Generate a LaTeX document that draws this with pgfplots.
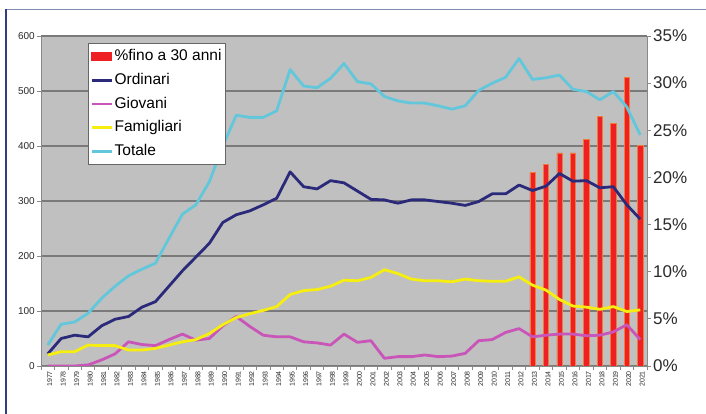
\documentclass[border=0pt]{standalone}
\usepackage{fontspec}
\setmainfont{Liberation Sans}
\usepackage{pgfplots}
\pgfplotsset{compat=1.18}
\usepackage{pgfplotstable}

\definecolor{bgc}{HTML}{C0C0C0}
\definecolor{gridc}{HTML}{7A7A7A}
\definecolor{axc}{HTML}{8A8A8A}
\definecolor{tickc}{HTML}{2A2A2A}
\definecolor{totc}{HTML}{63C7DB}
\definecolor{ordc}{HTML}{2B2A7A}
\definecolor{giovc}{HTML}{C955B8}
\definecolor{famc}{HTML}{F6EE10}
\definecolor{barc}{HTML}{EE2024}
\definecolor{baredge}{HTML}{F27A3A}
\definecolor{framec}{HTML}{2F3F7F}

\pgfplotstableread{
idx year tot ord giov fam
0 1977 38 22 0 20
1 1978 76 50 0 26
2 1979 80 56 0 26
3 1980 96 53 2 38
4 1981 123 73 11 37
5 1982 145 85 22 37
6 1983 164 90 44 29
7 1984 176 107 39 29
8 1985 187 117 37 32
9 1986 232 145 48 38
10 1987 276 173 58 44
11 1988 293 198 47 48
12 1989 335 223 50 59
13 1990 400 261 73 75
14 1991 456 275 90 88
15 1992 452 282 72 95
16 1993 452 293 56 101
17 1994 464 305 53 108
18 1995 539 353 53 130
19 1996 509 326 44 137
20 1997 506 322 42 139
21 1998 523 337 38 145
22 1999 550 333 58 156
23 2000 517 318 43 155
24 2001 513 303 46 161
25 2002 490 302 14 175
26 2003 482 296 17 168
27 2004 478 302 17 158
28 2005 478 302 20 155
29 2006 473 299 17 155
30 2007 467 296 18 153
31 2008 473 292 23 158
32 2009 501 299 46 155
33 2010 514 313 48 154
34 2011 525 313 61 154
35 2012 559 329 68 162
36 2013 521 319 53 147
37 2014 524 327 56 138
38 2015 529 350 58 121
39 2016 503 336 58 109
40 2017 499 337 55 107
41 2018 484 324 56 103
42 2019 499 326 62 108
43 2020 471 293 75 99
44 2021 420 267 48 102
}\datatab

\pgfplotstableread{
idx year pct
36 2013 20.5
37 2014 21.4
38 2015 22.6
39 2016 22.6
40 2017 24.0
41 2018 26.5
42 2019 25.7
43 2020 30.6
44 2021 23.4
}\bartab

\begin{document}
\begin{tikzpicture}
\useasboundingbox (0pt,0pt) rectangle (706pt,414pt);
\fill[white] (0pt,0pt) rectangle (706pt,414pt);
\draw[framec!60, line width=0.8pt] (6pt,404.5pt) -- (706pt,404.5pt);
\draw[framec, line width=2pt] (6pt,0pt) -- (6pt,405pt);

% base axis: background, grid, left ticks, year labels
\begin{axis}[
  at={(41pt,48pt)}, anchor=south west, scale only axis,
  width=606pt, height=330pt,
  xmin=-0.5, xmax=44.5, ymin=0, ymax=600,
  axis background/.style={fill=bgc},
  axis x line*=bottom, axis y line*=left,
  axis line style={draw=axc, line width=0.8pt, -},
  ytick={0,100,...,600}, ymajorgrids,
  grid style={draw=gridc, line width=1.1pt},
  xtick={0,...,44},
  major x tick style={draw=none},
  minor xtick={-0.5,0.5,...,44.5},
  tick align=outside,
  tick style={draw=axc, line width=0.8pt},
  major tick length=4pt, minor tick length=4pt,
  xticklabel={\pgfmathparse{int(\tick+1977)}\pgfmathresult},
  xticklabel style={rotate=90, anchor=east, font=\fontsize{7}{8}\selectfont, text=tickc, inner sep=1pt, yshift=-2pt},
  yticklabel style={font=\fontsize{10}{12}\selectfont, text=tickc, inner sep=2pt},
  /pgf/number format/assume math mode=true,
]
\end{axis}

% bars on right axis
\begin{axis}[
  at={(41pt,48pt)}, anchor=south west, scale only axis,
  width=606pt, height=330pt,
  xmin=-0.5, xmax=44.5, ymin=0, ymax=35,
  axis x line=none, axis y line*=right,
  axis line style={draw=axc, line width=0.8pt, -},
  ytick={0,5,...,35},
  tick align=outside,
  tick style={draw=axc, line width=0.8pt},
  major tick length=4pt,
  yticklabel={\pgfmathprintnumber{\tick}\%},
  yticklabel style={font=\fontsize{17}{20}\selectfont, text=tickc, inner sep=2pt},
  /pgf/number format/assume math mode=true,
]
\addplot[ybar, bar width=5.4pt, fill=barc, draw=baredge, line width=0.5pt] table[x=idx, y=pct]{\bartab};
\end{axis}

% lines
\begin{axis}[
  at={(41pt,48pt)}, anchor=south west, scale only axis,
  width=606pt, height=330pt,
  xmin=-0.5, xmax=44.5, ymin=0, ymax=600,
  hide axis,
  legend image code/.code={\draw[#1] (0pt,0pt) -- (20pt,0pt);},
  legend cell align=left,
  legend style={at={(0.0776,0.978)}, anchor=north west,
    fill=white, draw=gray!80!black, line width=0.6pt,
    font=\fontsize{15.5}{18}\selectfont,
    inner xsep=2pt, inner ysep=1pt, row sep=0pt, column sep=0pt,
    nodes={inner xsep=1.5pt, inner ysep=4.4pt, text height=11.5pt, text depth=3.5pt}},
]
\addlegendimage{legend image code/.code={\fill[barc] (0pt,-4pt) rectangle (20pt,4pt);}}
\addlegendentry{\%fino a 30 anni}
\addplot[ordc, line width=2.8pt, line join=round] table[x=idx, y=ord]{\datatab};
\addlegendentry{Ordinari}
\addplot[giovc, line width=2.8pt, line join=round] table[x=idx, y=giov]{\datatab};
\addlegendentry{Giovani}
\addplot[famc, line width=2.8pt, line join=round] table[x=idx, y=fam]{\datatab};
\addlegendentry{Famigliari}
\addplot[totc, line width=2.8pt, line join=round] table[x=idx, y=tot]{\datatab};
\addlegendentry{Totale}
\end{axis}
\end{tikzpicture}
\end{document}
